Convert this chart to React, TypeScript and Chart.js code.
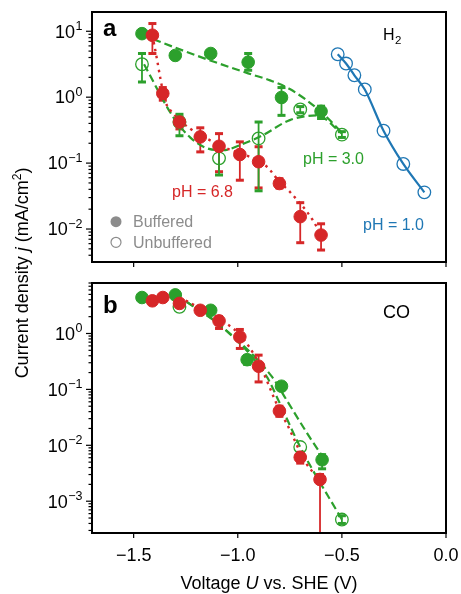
import React, { useEffect, useRef } from 'react';
import { Chart, registerables } from 'chart.js';
Chart.register(...registerables);

const FONT = '"Liberation Sans", Arial, Helvetica, sans-serif';
const GREEN = '#2ca02c';
const RED = '#d62728';
const BLUE = '#1f77b4';
const GRAY = '#8c8c8c';

// ---------- Panel a (H2) ----------
const aRedU = [-1.41, -1.36, -1.28, -1.18, -1.09, -0.99, -0.9, -0.8, -0.7, -0.6];
const aRedJ = [8.7, 1.14, 0.42, 0.25, 0.18, 0.135, 0.105, 0.049, 0.0154, 0.0081];
const aRedHi = [13.1, 1.4, 0.5, 0.343, 0.28, 0.21, 0.177, 0.058, 0.0251, 0.012];
const aRedLo = [4.6, 0.9, 0.33, 0.148, 0.074, 0.055, 0.042, 0.042, 0.0062, 0.0048];

const aGreenBufU = [-1.46, -1.3, -1.13, -0.95, -0.79, -0.6];
const aGreenBufJ = [9.2, 4.3, 4.6, 3.4, 0.99, 0.61];
const aGreenBufHi = [null, null, null, 4.6, 1.4, 0.73];
const aGreenBufLo = [null, null, null, 2.56, 0.53, 0.475];

const aGreenUnbU = [-1.46, -1.28, -1.09, -0.9, -0.7, -0.5];
const aGreenUnbJ = [3.16, 0.42, 0.118, 0.237, 0.65, 0.27];
const aGreenUnbHi = [4.6, 0.55, 0.16, 0.42, 0.72, 0.3];
const aGreenUnbLo = [1.7, 0.26, 0.066, 0.038, 0.58, 0.245];

const aBlueU = [-0.52, -0.48, -0.44, -0.39, -0.3, -0.205, -0.104];
const aBlueJ = [4.48, 3.24, 2.15, 1.31, 0.31, 0.097, 0.036];

const aGreenBufFitU = [-1.46, -1.2, -0.95, -0.845, -0.75, -0.6, -0.5];
const aGreenBufFitJ = [8.8, 4.3, 2.3, 1.8, 1.33, 0.6, 0.29];
const aGreenUnbFitU = [-1.45, -1.31, -1.23, -1.15, -1.07, -0.99, -0.88, -0.75, -0.62, -0.5];
const aGreenUnbFitJ = [3.16, 0.5, 0.248, 0.169, 0.157, 0.187, 0.265, 0.449, 0.53, 0.28];
const aRedFitU = [-1.41, -1.39, -1.37, -1.35, -1.31, -1.23, -1.07, -0.86, -0.8, -0.75, -0.64, -0.605];
const aRedFitJ = [8.7, 4.08, 1.81, 0.9, 0.566, 0.336, 0.177, 0.088, 0.052, 0.0367, 0.0137, 0.0086];

// ---------- Panel b (CO) ----------
const bRedU = [-1.41, -1.36, -1.28, -1.18, -1.09, -0.99, -0.9, -0.8, -0.7, -0.605];
const bRedJ = [3.84, 4.4, 3.45, 2.6, 1.68, 0.87, 0.26, 0.041, 0.0061, 0.00245];
const bRedHi = [null, null, null, null, 2.0, 1.18, 0.41, 0.05, 0.0075, 0.003];
const bRedLo = [null, null, null, null, 1.23, 0.54, 0.136, 0.033, 0.0048, 0];

const bGreenBufU = [-1.46, -1.3, -1.13, -0.955, -0.79, -0.595];
const bGreenBufJ = [4.4, 4.9, 2.6, 0.34, 0.114, 0.0055];
const bGreenBufHi = [null, null, null, 0.4, null, 0.0068];
const bGreenBufLo = [null, null, null, 0.28, null, 0.0038];

const bGreenUnbU = [-1.28, -0.7, -0.5];
const bGreenUnbJ = [3.0, 0.0093, 0.00047];
const bGreenUnbHi = [null, null, 0.00055];
const bGreenUnbLo = [null, null, 0.0004];

const bGreenBufFitU = [-1.245, -1.075, -0.835, -0.765, -0.655, -0.59];
const bGreenBufFitJ = [3.68, 1.31, 0.167, 0.064, 0.014, 0.0061];
const bGreenUnbFitU = [-1.245, -1.075, -0.86, -0.805, -0.7, -0.5];
const bGreenUnbFitJ = [3.68, 1.31, 0.167, 0.064, 0.0093, 0.00047];
const bRedFitU = [-1.25, -1.1, -0.99, -0.9, -0.8, -0.765, -0.67, -0.605];
const bRedFitJ = [3.9, 1.9, 0.95, 0.3, 0.043, 0.0244, 0.0047, 0.00245];

// ---------- Axes ----------
const xMin = -1.7;
const xMax = 0;
const xTicks = [-1.5, -1.0, -0.5, 0.0];
const xTickLabels = ['\u22121.5', '\u22121.0', '\u22120.5', '0.0'];
const aYMin = 0.00316;
const aYMax = 19.6;
const aYExps = [1, 0, -1, -2];
const bYMin = 0.00027;
const bYMax = 8.0;
const bYExps = [0, -1, -2, -3];

const pts = (xs: number[], ys: number[]) => xs.map((x, i) => ({ x, y: ys[i] }));

function markerSet(xs: number[], ys: number[], color: string, open: boolean, lo?: any[], hi?: any[]) {
  return {
    type: 'scatter',
    data: pts(xs, ys),
    showLine: false,
    pointRadius: open ? 6.3 : 6.3,
    pointBorderWidth: open ? 1.3 : 1,
    pointBackgroundColor: open ? 'rgba(0,0,0,0)' : color,
    pointBorderColor: color,
    borderColor: color,
    backgroundColor: color,
    errLo: lo,
    errHi: hi,
  } as any;
}

function fitSet(xs: number[], ys: number[], color: string, dash: number[], width: number) {
  return {
    type: 'line',
    data: pts(xs, ys),
    showLine: true,
    pointRadius: 0,
    borderColor: color,
    borderWidth: width,
    borderDash: dash,
    cubicInterpolationMode: 'monotone',
    fill: false,
  } as any;
}

function txt(ctx: CanvasRenderingContext2D, s: string, x: number, y: number, font: string, color: string, align: CanvasTextAlign = 'left') {
  ctx.font = font;
  ctx.fillStyle = color;
  ctx.textAlign = align;
  ctx.textBaseline = 'alphabetic';
  ctx.fillText(s, x, y);
}

function makeDecor(cfg: { exps: number[]; xLabels: boolean; extra: (ctx: CanvasRenderingContext2D, ca: any, chart: any) => void }) {
  return {
    id: 'decor',
    beforeDatasetsDraw(chart: any) {
      const { ctx, chartArea: ca, scales } = chart;
      const x = scales.x;
      const y = scales.y;
      ctx.save();
      ctx.beginPath();
      ctx.rect(ca.left, ca.top, ca.right - ca.left, ca.bottom - ca.top);
      ctx.clip();
      chart.data.datasets.forEach((ds: any) => {
        if (!ds.errLo) return;
        ctx.strokeStyle = ds.borderColor;
        ctx.fillStyle = ds.borderColor;
        ctx.lineWidth = 1.8;
        ds.data.forEach((p: any, i: number) => {
          const lo = ds.errLo[i];
          const hi = ds.errHi[i];
          if (lo == null && hi == null) return;
          const px = x.getPixelForValue(p.x);
          const pc = y.getPixelForValue(p.y);
          const pHi = hi != null ? y.getPixelForValue(hi) : pc;
          const pLo = lo != null ? (lo > 0 ? y.getPixelForValue(lo) : ca.bottom + 3) : pc;
          ctx.beginPath();
          ctx.moveTo(px, pHi);
          ctx.lineTo(px, pLo);
          ctx.stroke();
          if (hi != null) ctx.fillRect(px - 4, pHi - 1.5, 8, 3);
          if (lo != null && lo > 0) ctx.fillRect(px - 4, pLo - 1.5, 8, 3);
        });
      });
      ctx.restore();
    },
    afterDraw(chart: any) {
      const { ctx, chartArea: ca, scales } = chart;
      const x = scales.x;
      const y = scales.y;
      ctx.save();
      // frame
      ctx.strokeStyle = '#000';
      ctx.lineWidth = 2;
      ctx.strokeRect(ca.left, ca.top, ca.right - ca.left, ca.bottom - ca.top);
      // y ticks (log, outward)
      ctx.lineWidth = 1.2;
      const eLo = Math.floor(Math.log10(y.min));
      const eHi = Math.ceil(Math.log10(y.max));
      for (let e = eLo; e <= eHi; e++) {
        for (let m = 1; m <= 9; m++) {
          const v = m * Math.pow(10, e);
          if (v < y.min || v > y.max) continue;
          const py = y.getPixelForValue(v);
          const len = m === 1 ? 5 : 2.5;
          ctx.beginPath();
          ctx.moveTo(ca.left - 1, py);
          ctx.lineTo(ca.left - 1 - len, py);
          ctx.stroke();
        }
      }
      // y tick labels 10^e
      cfg.exps.forEach((e) => {
        const py = y.getPixelForValue(Math.pow(10, e));
        const expStr = e < 0 ? '\u2212' + Math.abs(e) : String(e);
        const right = ca.left - 9.5;
        ctx.font = '12.5px ' + FONT;
        const ew = ctx.measureText(expStr).width;
        txt(ctx, expStr, right, py - 1.5, '12.5px ' + FONT, '#000', 'right');
        txt(ctx, '10', right - ew - 0.5, py + 6.3, '18px ' + FONT, '#000', 'right');
      });
      // x ticks
      xTicks.forEach((v, i) => {
        const px = x.getPixelForValue(v);
        ctx.strokeStyle = '#000';
        ctx.lineWidth = 1.2;
        ctx.beginPath();
        ctx.moveTo(px, ca.bottom + 1);
        ctx.lineTo(px, ca.bottom + 5);
        ctx.stroke();
        if (cfg.xLabels) {
          txt(ctx, xTickLabels[i], px, ca.bottom + 28, '18px ' + FONT, '#000', 'center');
        }
      });
      cfg.extra(ctx, ca, chart);
      ctx.restore();
    },
  };
}

function baseOptions(yMin: number, yMax: number, padTop: number, xH: number) {
  return {
    responsive: false,
    maintainAspectRatio: false,
    animation: false,
    devicePixelRatio: 1,
    events: [],
    layout: { padding: { top: padTop, right: 15, left: 0, bottom: 0 } },
    plugins: { legend: { display: false }, tooltip: { enabled: false }, title: { display: false } },
    scales: {
      x: {
        type: 'linear',
        min: xMin,
        max: xMax,
        ticks: { display: false },
        grid: { display: false },
        border: { display: false },
        afterFit: (s: any) => { s.height = xH; },
      },
      y: {
        type: 'logarithmic',
        min: yMin,
        max: yMax,
        ticks: { display: false },
        grid: { display: false },
        border: { display: false },
        afterFit: (s: any) => { s.width = 92; },
      },
    },
  } as any;
}

export default function App() {
  const refA = useRef<HTMLCanvasElement>(null);
  const refB = useRef<HTMLCanvasElement>(null);

  useEffect(() => {
    const decorA = makeDecor({
      exps: aYExps,
      xLabels: false,
      extra: (ctx, ca) => {
        const L = ca.left;
        const T = ca.top;
        txt(ctx, 'a', L + 11, T + 24, 'bold 24px ' + FONT, '#000');
        txt(ctx, 'H', L + 291, T + 28, '16px ' + FONT, '#000');
        txt(ctx, '2', L + 303, T + 32, '11.5px ' + FONT, '#000');
        txt(ctx, 'pH = 6.8', L + 80, T + 185, '16px ' + FONT, RED);
        txt(ctx, 'pH = 3.0', L + 211, T + 151.5, '16px ' + FONT, GREEN);
        txt(ctx, 'pH = 1.0', L + 271, T + 218, '16px ' + FONT, BLUE);
        // legend
        ctx.fillStyle = GRAY;
        ctx.beginPath();
        ctx.arc(L + 24, T + 209.7, 5.5, 0, Math.PI * 2);
        ctx.fill();
        ctx.strokeStyle = GRAY;
        ctx.lineWidth = 1.2;
        ctx.beginPath();
        ctx.arc(L + 24, T + 230.3, 5, 0, Math.PI * 2);
        ctx.stroke();
        txt(ctx, 'Buffered', L + 41, T + 214.5, '16px ' + FONT, GRAY);
        txt(ctx, 'Unbuffered', L + 41, T + 236, '16px ' + FONT, GRAY);
      },
    });
    const decorB = makeDecor({
      exps: bYExps,
      xLabels: true,
      extra: (ctx, ca) => {
        const L = ca.left;
        const T = ca.top;
        txt(ctx, 'b', L + 11, T + 30, 'bold 24px ' + FONT, '#000');
        txt(ctx, 'CO', L + 291, T + 34.7, '18px ' + FONT, '#000');
      },
    });

    const chartA = new Chart(refA.current as HTMLCanvasElement, {
      type: 'scatter',
      data: {
        datasets: [
          markerSet(aRedU, aRedJ, RED, false, aRedLo, aRedHi),
          markerSet(aGreenBufU, aGreenBufJ, GREEN, false, aGreenBufLo, aGreenBufHi),
          markerSet(aGreenUnbU, aGreenUnbJ, GREEN, true, aGreenUnbLo, aGreenUnbHi),
          markerSet(aBlueU, aBlueJ, BLUE, true),
          fitSet(aRedFitU, aRedFitJ, RED, [2.5, 4.5], 2.4),
          fitSet(aGreenBufFitU, aGreenBufFitJ, GREEN, [8, 4], 2.2),
          fitSet(aGreenUnbFitU, aGreenUnbFitJ, GREEN, [8, 4], 2.2),
          fitSet(aBlueU, aBlueJ, BLUE, [], 2.2),
        ],
      },
      options: baseOptions(aYMin, aYMax, 12, 13),
      plugins: [decorA as any],
    } as any);

    const chartB = new Chart(refB.current as HTMLCanvasElement, {
      type: 'scatter',
      data: {
        datasets: [
          markerSet(bRedU, bRedJ, RED, false, bRedLo, bRedHi),
          markerSet(bGreenBufU, bGreenBufJ, GREEN, false, bGreenBufLo, bGreenBufHi),
          markerSet(bGreenUnbU, bGreenUnbJ, GREEN, true, bGreenUnbLo, bGreenUnbHi),
          fitSet(bRedFitU, bRedFitJ, RED, [2.5, 4.5], 2.4),
          fitSet(bGreenBufFitU, bGreenBufFitJ, GREEN, [8, 4], 2.2),
          fitSet(bGreenUnbFitU, bGreenUnbFitJ, GREEN, [8, 4], 2.2),
        ],
      },
      options: baseOptions(bYMin, bYMax, 8, 61),
      plugins: [decorB as any],
    } as any);

    return () => {
      chartA.destroy();
      chartB.destroy();
    };
  }, []);

  return (
    <div style={{ position: 'absolute', left: 0, top: 0, width: 461, height: 594, background: '#fff', fontFamily: FONT, color: '#000' }}>
      <canvas ref={refA} width={461} height={275} style={{ position: 'absolute', left: 0, top: 0, width: 461, height: 275 }} />
      <canvas ref={refB} width={461} height={319} style={{ position: 'absolute', left: 0, top: 275, width: 461, height: 319 }} />
      <div
        style={{
          position: 'absolute',
          left: 22 - 200,
          top: 272.5 - 11,
          width: 400,
          height: 22,
          lineHeight: '22px',
          fontSize: 18,
          textAlign: 'center',
          whiteSpace: 'nowrap',
          transform: 'rotate(-90deg)',
        }}
      >
        Current density <i>j</i> (mA/cm<sup style={{ fontSize: 12, lineHeight: 0 }}>2</sup>)
      </div>
      <div
        style={{
          position: 'absolute',
          left: 92,
          top: 574,
          width: 354,
          height: 18,
          lineHeight: '18px',
          fontSize: 18,
          textAlign: 'center',
          whiteSpace: 'nowrap',
        }}
      >
        Voltage <i>U</i> vs. SHE (V)
      </div>
    </div>
  );
}
